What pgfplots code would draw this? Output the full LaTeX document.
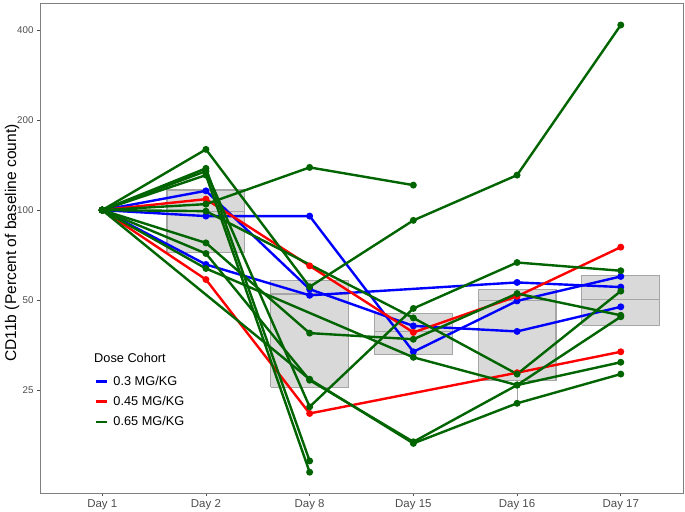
\documentclass[border=0pt]{standalone}
\usepackage{pgfplots}
\pgfplotsset{compat=1.18}
\usepackage{fontspec}
\setmainfont{Liberation Sans}
\definecolor{dgreen}{HTML}{006400}
\definecolor{boxfill}{HTML}{D9D9D9}
\definecolor{boxline}{HTML}{A6A6A6}
\definecolor{tickgray}{HTML}{4D4D4D}
\definecolor{framegray}{HTML}{7F7F7F}
\pgfplotsset{
  subj/.style={line width=2.4bp, mark=*, mark size=2.2bp, mark options={solid}, forget plot},
  boxs/.style={fill=boxfill, draw=boxline, line width=1.2bp, forget plot},
  meds/.style={draw=boxline, line width=1.2bp, forget plot},
}
\begin{document}
\begin{tikzpicture}
\begin{axis}[name=ax, scale only axis, width=643bp, height=490bp,
  xmin=0.4, xmax=6.6, ymode=log, log basis y=2, ymin=11.33, ymax=492.5,
  xtick={1,2,3,4,5,6}, xticklabels={Day 1,Day 2,Day 8,Day 15,Day 16,Day 17},
  ytick={25,50,100,200,400}, yticklabels={25,50,100,200,400},
  tick align=outside, xtick pos=bottom, ytick pos=left, major tick length=3bp,
  tick style={color=tickgray, line width=0.8bp},
  axis line style={draw=framegray, line width=0.8bp},
  x tick label style={font=\fontsize{11.5}{12}\selectfont, text=tickgray},
  y tick label style={font=\fontsize{9.8}{10}\selectfont, text=tickgray},
  legend style={at={(rel axis cs:0.0855,0.243)}, anchor=north west, draw=none, fill=none,
    inner sep=0pt, outer sep=0pt, row sep=5.5bp, column sep=3bp, font=\fontsize{12.8}{13}\selectfont,
    nodes={inner sep=2bp}},
  legend cell align=left,
  legend image code/.code={\draw[#1, line width=2.5bp] (0bp,0bp) -- (11bp,0bp);},
]
% boxes
\addplot[boxs] coordinates {(1.625,72.0) (2.375,72.0) (2.375,116.7) (1.625,116.7) (1.625,72.0)};
\addplot[meds] coordinates {(1.625,98.7) (2.375,98.7)};
\addplot[boxs] coordinates {(2.625,25.6) (3.375,25.6) (3.375,58.0) (2.625,58.0) (2.625,25.6)};
\addplot[meds] coordinates {(2.625,52.4) (3.375,52.4)};
\addplot[boxs] coordinates {(3.625,33.0) (4.375,33.0) (4.375,45.1) (3.625,45.1) (3.625,33.0)};
\addplot[meds] coordinates {(3.625,39.2) (4.375,39.2)};
\addplot[meds, line width=0.8bp] coordinates {(5,27.0) (5,22.4)};
\addplot[boxs] coordinates {(4.625,27.0) (5.375,27.0) (5.375,54.4) (4.625,54.4) (4.625,27.0)};
\addplot[meds] coordinates {(4.625,50.0) (5.375,50.0)};
\addplot[boxs] coordinates {(5.625,41.2) (6.375,41.2) (6.375,60.6) (5.625,60.6) (5.625,41.2)};
\addplot[meds] coordinates {(5.625,50.4) (6.375,50.4)};
% blue
\addplot[subj, blue] coordinates {(1,100) (2,95.5) (3,95.5) (4,33.6) (5,49.7) (6,60.0)};
\addplot[subj, blue] coordinates {(1,100) (2,116) (3,54.4) (4,41.0) (5,39.3) (6,47.5)};
\addplot[subj, blue] coordinates {(1,100) (2,65.8) (3,51.9) (5,57.3) (6,55.3)};
% red
\addplot[subj, red] coordinates {(1,100) (2,108.8) (3,65.1) (4,39.0) (5,51.5) (6,75.2)};
\addplot[subj, red] coordinates {(1,100) (2,58.6) (3,20.9) (5,28.6) (6,33.6)};
% green
\addplot[subj, dgreen] coordinates {(1,100) (2,159.6) (3,55.4) (4,92.4) (5,130.9) (6,415.7)};
\addplot[subj, dgreen] coordinates {(1,100) (2,104.7) (3,138.9) (4,121.2)};
\addplot[subj, dgreen] coordinates {(1,100) (2,137.9) (3,14.5)};
\addplot[subj, dgreen] coordinates {(1,100) (2,130.9) (3,13.3)};
\addplot[subj, dgreen] coordinates {(1,100) (2,99.2) (4,43.6) (5,28.3) (6,53.6)};
\addplot[subj, dgreen] coordinates {(1,100) (2,63.8) (4,32.2) (5,26.0) (6,44.0)};
\addplot[subj, dgreen] coordinates {(1,100) (2,77.7) (3,38.8) (4,37.0) (5,52.6) (6,44.5)};
\addplot[subj, dgreen] coordinates {(1,100) (2,71.6) (3,27.0) (4,16.8) (5,26.0) (6,31.0)};
\addplot[subj, dgreen] coordinates {(1,100) (3,27.2) (4,16.6) (5,22.6) (6,28.3)};
\addplot[subj, dgreen] coordinates {(1,100) (2,135) (3,22.0) (4,46.9) (5,66.8) (6,62.7)};
% legend
\addlegendimage{blue}\addlegendentry{0.3 MG/KG}
\addlegendimage{red}\addlegendentry{0.45 MG/KG}
\addlegendimage{dgreen}\addlegendentry{0.65 MG/KG}
\node[anchor=base west, inner sep=0pt, font=\fontsize{12.8}{13}\selectfont] at (rel axis cs:0.084,0.267) {Dose Cohort};
\end{axis}
\node[rotate=90, font=\fontsize{15.6}{16}\selectfont] at ([xshift=-28bp,yshift=5bp]ax.west) {CD11b (Percent of baseline count)};
\pgfresetboundingbox
\path ([xshift=-40bp,yshift=-19bp]ax.south west) rectangle ([xshift=2bp,yshift=3bp]ax.north east);
\end{tikzpicture}
\end{document}
